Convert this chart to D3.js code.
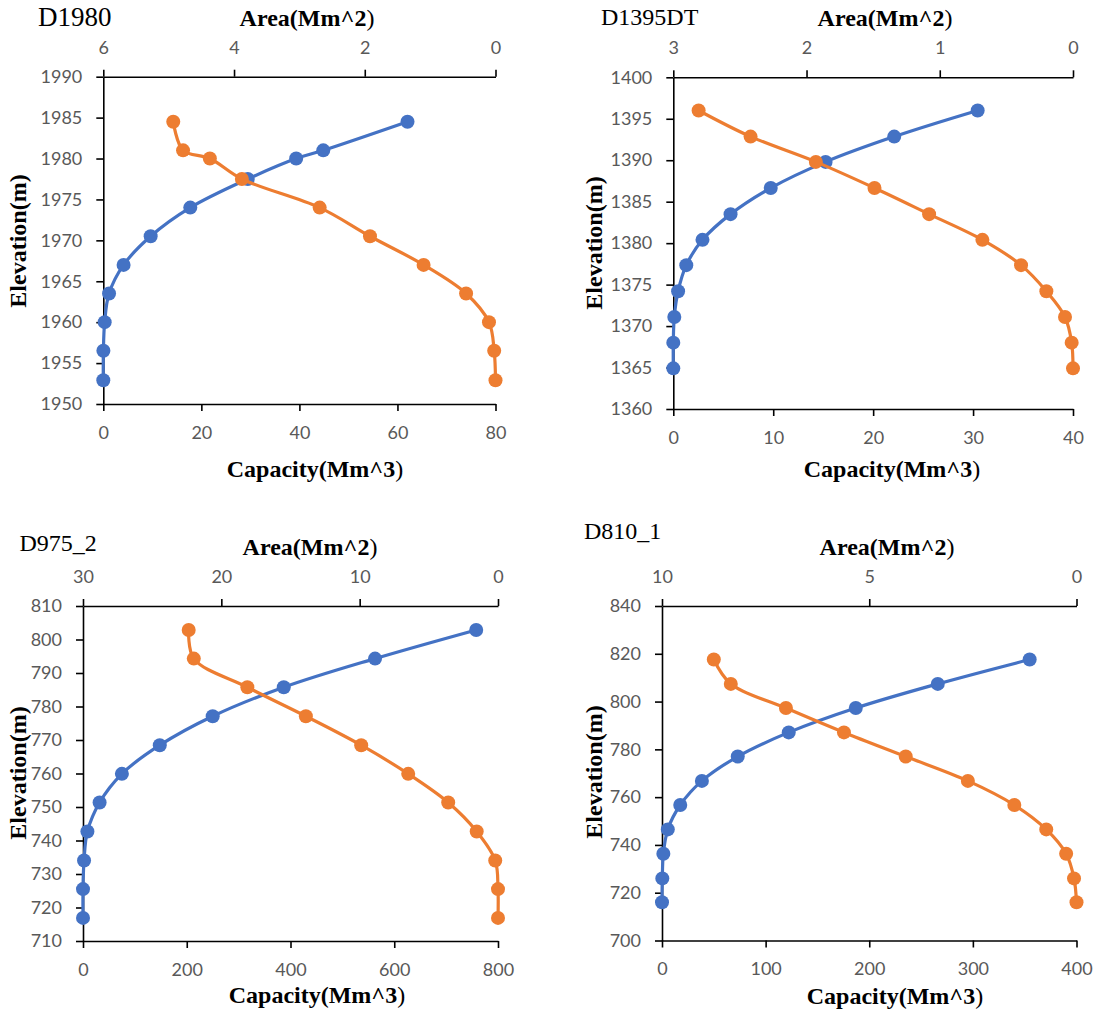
<!DOCTYPE html>
<html>
<head>
<meta charset="utf-8">
<script src="https://cdn.jsdelivr.net/npm/d3@7"></script>
<style>
  html, body { margin: 0; padding: 0; background: #fff; }
  svg { display: block; }
</style>
</head>
<body>
<svg id="chart" width="1097" height="1013"></svg>
<script>
// ---------------- DATA ----------------
const names = ["D1980", "D1395DT", "D975_2", "D810_1"];

const elevD1980 = [1952.9, 1956.5, 1960, 1963.5, 1967, 1970.5, 1974, 1977.5, 1980, 1981, 1984.5];
const capD1980  = [0, 0.02, 0.28, 1.17, 4.14, 9.66, 17.74, 29.47, 39.34, 44.87, 62.05];
const areaD1980 = [0, 0.02, 0.10, 0.45, 1.10, 1.92, 2.69, 3.88, 4.37, 4.78, 4.93];

const elevD1395 = [1364.9, 1368.0, 1371.1, 1374.2, 1377.35, 1380.4, 1383.5, 1386.65, 1389.8, 1392.85, 1396.0];
const capD1395  = [0, 0, 0.10, 0.48, 1.30, 2.92, 5.73, 9.75, 15.24, 22.11, 30.46];
const areaD1395 = [0, 0.01, 0.06, 0.20, 0.39, 0.68, 1.08, 1.49, 1.93, 2.42, 2.81];

const elevD975 = [716.9, 725.5, 734.05, 742.7, 751.35, 759.9, 768.45, 777.1, 785.75, 794.3, 802.85];
const capD975  = [0, 0, 2, 8.5, 32, 75, 148, 250, 387, 563, 758];
const areaD975 = [0, 0, 0.2, 1.54, 3.6, 6.49, 9.89, 13.89, 18.12, 21.99, 22.36];

const elevD810 = [716, 726, 736.3, 746.5, 756.7, 766.8, 777, 787.1, 797.3, 807.4, 817.6];
const capD810  = [0, 0.3, 1.3, 5.6, 17.6, 38.5, 73.1, 122.3, 187, 266.1, 354.8];
const areaD810 = [0, 0.06, 0.25, 0.73, 1.50, 2.62, 4.12, 5.61, 7.01, 8.34, 8.75];

// tick labels
const elevTicksD1980 = [1950, 1955, 1960, 1965, 1970, 1975, 1980, 1985, 1990];
const capTicksD1980  = [0, 20, 40, 60, 80];
const areaTicksD1980 = [6, 4, 2, 0];

const elevTicksD1395 = [1360, 1365, 1370, 1375, 1380, 1385, 1390, 1395, 1400];
const capTicksD1395  = [0, 10, 20, 30, 40];
const areaTicksD1395 = [3, 2, 1, 0];

const elevTicksD975 = [710, 720, 730, 740, 750, 760, 770, 780, 790, 800, 810];
const capTicksD975  = [0, 200, 400, 600, 800];
const areaTicksD975 = [30, 20, 10, 0];

const elevTicksD810 = [700, 720, 740, 760, 780, 800, 820, 840];
const capTicksD810  = [0, 100, 200, 300, 400];
const areaTicksD810 = [10, 5, 0];

const axisTitleTop = "Area(Mm^2)";
const axisTitleBottom = "Capacity(Mm^3)";
const axisTitleLeft = "Elevation(m)";

// ---------------- LAYOUT ----------------
const panels = [
  { name: names[0], elev: elevD1980, cap: capD1980, area: areaD1980,
    eT: elevTicksD1980, cT: capTicksD1980, aT: areaTicksD1980,
    left: 103.3, right: 495.5, top: 76.7, bottom: 404,
    title: { x: 38, y: 26, size: 27 },
    areaTitle: { x: 307, y: 26 }, capTitle: { x: 315, y: 477 }, elevTitle: { x: 26, y: 241 } },
  { name: names[1], elev: elevD1395, cap: capD1395, area: areaD1395,
    eT: elevTicksD1395, cT: capTicksD1395, aT: areaTicksD1395,
    left: 673.3, right: 1073, top: 77.3, bottom: 409,
    title: { x: 601, y: 25, size: 24 },
    areaTitle: { x: 885, y: 26 }, capTitle: { x: 892, y: 477 }, elevTitle: { x: 602, y: 243 } },
  { name: names[2], elev: elevD975, cap: capD975, area: areaD975,
    eT: elevTicksD975, cT: capTicksD975, aT: areaTicksD975,
    left: 83, right: 498, top: 606, bottom: 941,
    title: { x: 19.5, y: 551, size: 24 },
    areaTitle: { x: 310, y: 555 }, capTitle: { x: 317, y: 1003 }, elevTitle: { x: 26, y: 773 } },
  { name: names[3], elev: elevD810, cap: capD810, area: areaD810,
    eT: elevTicksD810, cT: capTicksD810, aT: areaTicksD810,
    left: 662, right: 1076.5, top: 606, bottom: 940.5,
    title: { x: 584, y: 539, size: 24 },
    areaTitle: { x: 887, y: 555 }, capTitle: { x: 895, y: 1004 }, elevTitle: { x: 602, y: 772 } }
];

const BLUE = "#4472C4", ORANGE = "#ED7D31";
const tickFont = "Lato, 'Open Sans', 'Liberation Sans', sans-serif";
const serif = "'Liberation Serif', 'Times New Roman', serif";

const svg = d3.select("#chart");

panels.forEach(p => {
  const g = svg.append("g");
  const x = d3.scaleLinear().domain([0, p.cT[p.cT.length - 1]]).range([p.left, p.right]);
  const xa = d3.scaleLinear().domain([p.aT[0], 0]).range([p.left, p.right]);
  const y = d3.scaleLinear().domain([p.eT[0], p.eT[p.eT.length - 1]]).range([p.bottom, p.top]);

  const styleAxis = sel => {
    sel.selectAll(".domain").attr("stroke", "#000").attr("stroke-width", 1.6);
    sel.selectAll(".tick line").attr("stroke", "#000").attr("stroke-width", 1.6);
    sel.selectAll(".tick text").attr("fill", "#595959")
      .style("font-family", tickFont).style("font-size", "18px");
  };

  // left axis
  g.append("g").attr("transform", `translate(${p.left},0)`)
    .call(d3.axisLeft(y).tickValues(p.eT).tickSize(7).tickSizeOuter(0).tickPadding(14).tickFormat(d3.format("d")))
    .call(styleAxis);
  // bottom axis
  g.append("g").attr("transform", `translate(0,${p.bottom})`)
    .call(d3.axisBottom(x).tickValues(p.cT).tickSize(7).tickSizeOuter(0).tickPadding(15).tickFormat(d3.format("d")))
    .call(styleAxis);
  // top axis (reversed area)
  g.append("g").attr("transform", `translate(0,${p.top})`)
    .call(d3.axisTop(xa).tickValues(p.aT).tickSize(7).tickSizeOuter(0).tickPadding(16).tickFormat(d3.format("d")))
    .call(styleAxis);

  // series
  const capPts = p.elev.map((e, i) => [x(p.cap[i]), y(e)]);
  const areaPts = p.elev.map((e, i) => [xa(p.area[i]), y(e)]);
  const line = d3.line().curve(d3.curveCatmullRom.alpha(0.5));

  g.append("path").attr("d", line(capPts)).attr("fill", "none")
    .attr("stroke", BLUE).attr("stroke-width", 3.2).attr("stroke-linejoin", "round");
  g.append("g").selectAll("circle").data(capPts).join("circle")
    .attr("cx", d => d[0]).attr("cy", d => d[1]).attr("r", 7).attr("fill", BLUE);

  g.append("path").attr("d", line(areaPts)).attr("fill", "none")
    .attr("stroke", ORANGE).attr("stroke-width", 3.2).attr("stroke-linejoin", "round");
  g.append("g").selectAll("circle").data(areaPts).join("circle")
    .attr("cx", d => d[0]).attr("cy", d => d[1]).attr("r", 7).attr("fill", ORANGE);

  // titles
  g.append("text").attr("x", p.title.x).attr("y", p.title.y)
    .style("font-family", serif).style("font-size", p.title.size + "px").attr("fill", "#000")
    .text(p.name);

  const boldTitle = (t, txt) => {
    t.style("font-family", serif).style("font-size", "24px").attr("fill", "#000")
      .attr("text-anchor", "middle");
    t.append("tspan").style("font-weight", "bold").text(txt.slice(0, -1));
    t.append("tspan").style("font-weight", "normal").text(txt.slice(-1));
  };
  boldTitle(g.append("text").attr("x", p.areaTitle.x).attr("y", p.areaTitle.y), axisTitleTop);
  boldTitle(g.append("text").attr("x", p.capTitle.x).attr("y", p.capTitle.y), axisTitleBottom);
  g.append("text")
    .attr("transform", `translate(${p.elevTitle.x},${p.elevTitle.y}) rotate(-90)`)
    .attr("text-anchor", "middle")
    .style("font-family", serif).style("font-size", "24px").style("font-weight", "bold")
    .attr("fill", "#000").text(axisTitleLeft);
});
</script>
</body>
</html>
